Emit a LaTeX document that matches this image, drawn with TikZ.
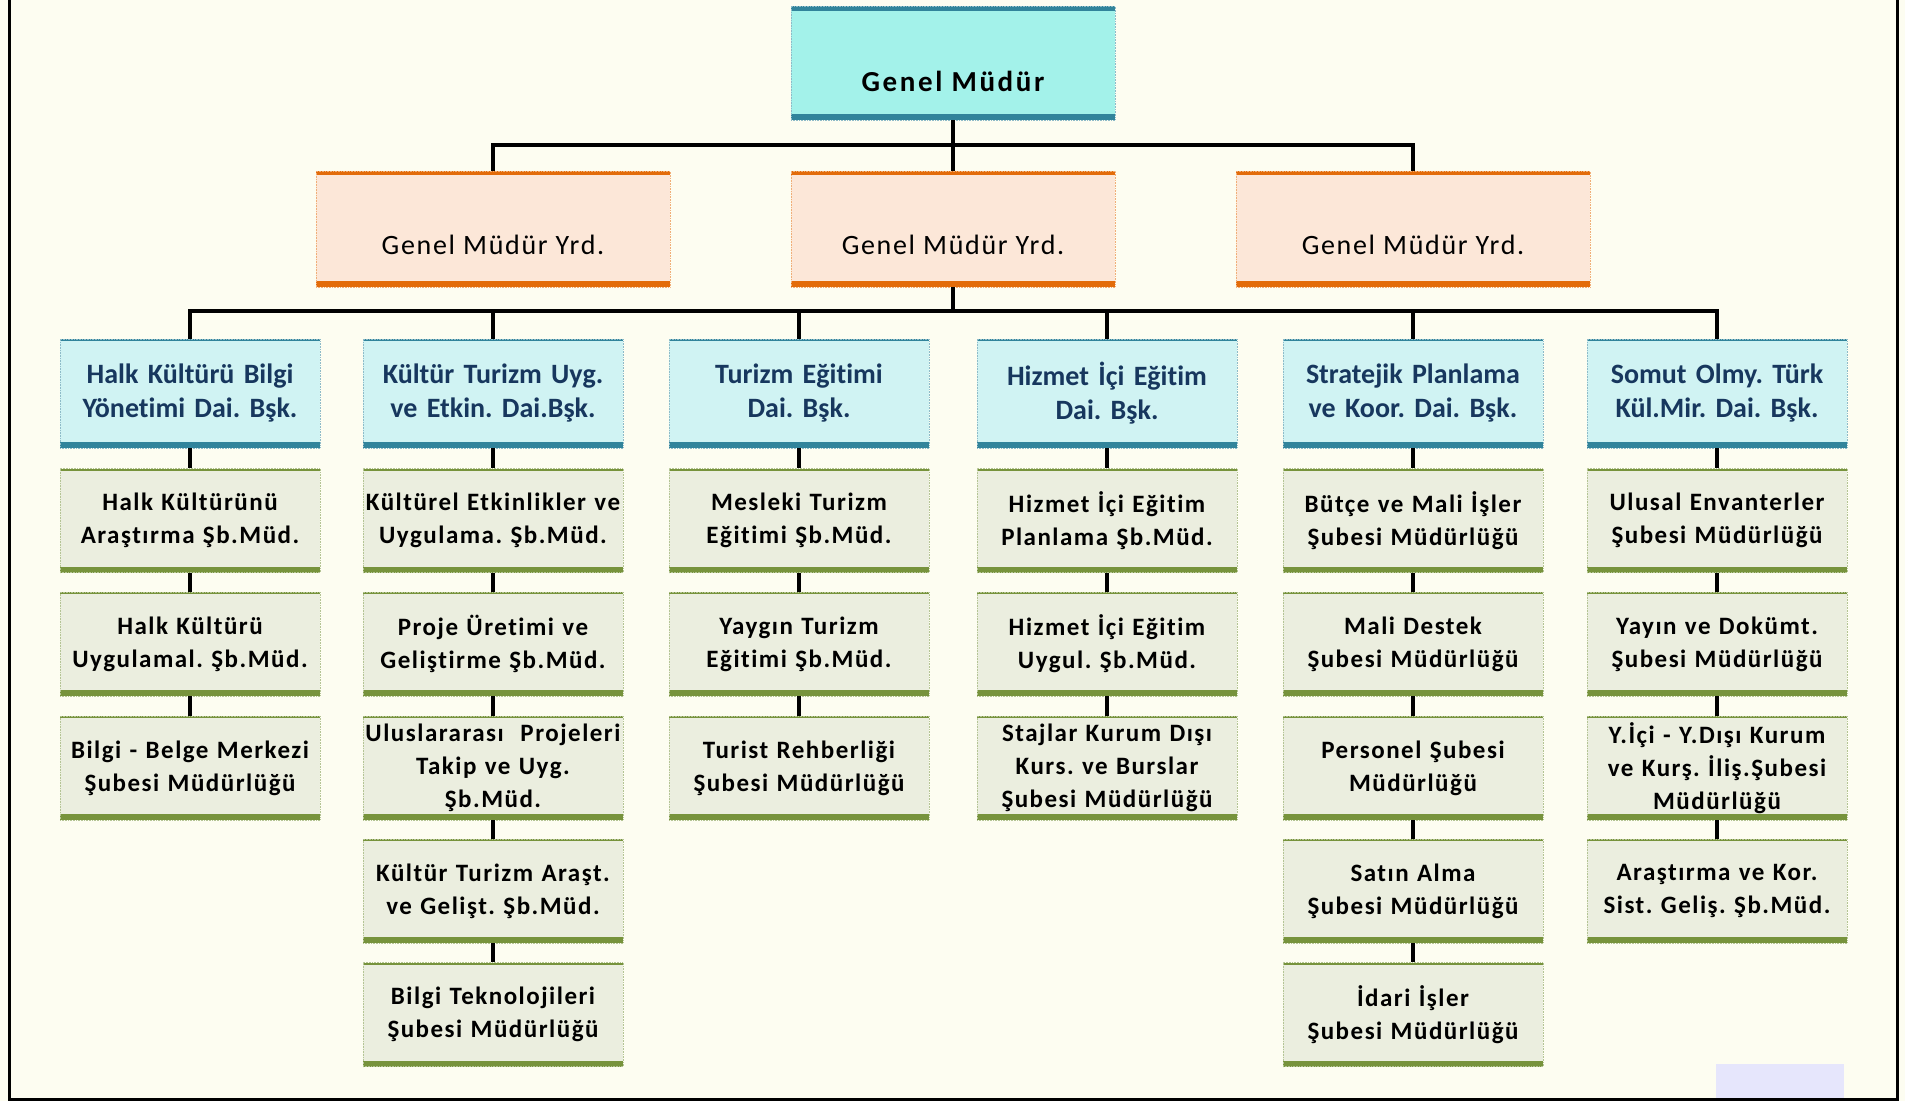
\documentclass[tikz,border=0pt]{standalone}
\usepackage{fontspec}
\setmainfont{Carlito}[Ligatures=NoCommon]
\newfontfamily\widefont[LetterSpace=6,Ligatures=NoCommon]{Carlito}
\newfontfamily\widerfont[LetterSpace=9,Ligatures=NoCommon]{Carlito}
\frenchspacing
\definecolor{bgcream}{HTML}{FDFDF1}
\definecolor{gmcyan}{HTML}{A3F2EA}
\definecolor{tealline}{HTML}{31849B}
\definecolor{yrdpeach}{HTML}{FCE7D8}
\definecolor{yrdorange}{HTML}{E36C0A}
\definecolor{daicyan}{HTML}{D0F3F3}
\definecolor{daiblue}{HTML}{17375E}
\definecolor{subgrey}{HTML}{EBEEDF}
\definecolor{oliveline}{HTML}{77933C}
\definecolor{lavbox}{HTML}{E6E6FC}
\tikzset{
  bars/.style n args={3}{path picture={
    \fill[#1] (path picture bounding box.north west) rectangle ([yshift=-#2]path picture bounding box.north east);
    \fill[#1] (path picture bounding box.south west) rectangle ([yshift=#3]path picture bounding box.south east);}},
  unit/.style={draw=#1!55, densely dotted, line width=0.6pt, inner sep=0pt, align=center},
  gmbox/.style={unit=tealline, fill=gmcyan, bars={tealline}{5pt}{6pt}, minimum width=324pt, minimum height=114pt},
  gmtext/.style={font=\widerfont\bfseries\fontsize{29}{35}\selectfont, yshift=-18pt},
  yrdbox/.style={unit=yrdorange, fill=yrdpeach, bars={yrdorange}{4pt}{6pt}, minimum height=116pt},
  yrdtext/.style={font=\widefont\fontsize{28}{34}\selectfont, yshift=-16pt},
  daibox/.style={unit=tealline, fill=daicyan, bars={tealline}{2pt}{6pt}, minimum width=260pt, minimum height=109pt, text width=258pt, font=\bfseries\fontsize{28}{34}\selectfont, text=daiblue},
  subbox/.style={unit=oliveline, fill=subgrey, bars={oliveline}{2pt}{6pt}, minimum width=260pt, minimum height=104pt, text width=258pt, font=\widefont\bfseries\fontsize{25}{33}\selectfont},
  link/.style={line width=3.6pt},
}
\begin{document}
\begin{tikzpicture}[x=1pt,y=-1pt]
\fill[bgcream] (0,0) rectangle (1905,1101);
\useasboundingbox (0,0) rectangle (1905,1101);
\fill[lavbox] (1716,1064) rectangle (1844,1099);
\draw[line width=3pt] (9,0) |- (1897,1099) -- (1897,0);
% top levels
\node[gmbox, label={[gmtext]center:Genel Müdür}] (gm) at (953,63) {};
\node[yrdbox, minimum width=354pt, label={[yrdtext]center:Genel Müdür Yrd.}] (gmy1) at (493,229) {};
\node[yrdbox, minimum width=324pt, label={[yrdtext]center:Genel Müdür Yrd.}] (gmy2) at (953,229) {};
\node[yrdbox, minimum width=354pt, label={[yrdtext]center:Genel Müdür Yrd.}] (gmy3) at (1413,229) {};
% daire baskanliklari
\node[daibox] (d1) at (190,393.5) {Halk Kültürü Bilgi\\Yönetimi Dai. Bşk.};
\node[daibox] (d2) at (493,393.5) {Kültür Turizm Uyg.\\ve Etkin. Dai.Bşk.};
\node[daibox] (d3) at (799,393.5) {Turizm Eğitimi\\Dai. Bşk.};
\node[daibox] (d4) at (1107,393.5) {Hizmet İçi Eğitim\\Dai. Bşk.};
\node[daibox] (d5) at (1413,393.5) {Stratejik Planlama\\ve Koor. Dai. Bşk.};
\node[daibox] (d6) at (1717,393.5) {Somut Olmy. Türk\\Kül.Mir. Dai. Bşk.};
% sube mudurlukleri
\node[subbox] (h1) at (190,520.5) {Halk Kültürünü\\Araştırma Şb.Müd.};
\node[subbox] (h2) at (190,644) {Halk Kültürü\\Uygulamal. Şb.Müd.};
\node[subbox] (h3) at (190,768) {Bilgi - Belge Merkezi\\Şubesi Müdürlüğü};
\node[subbox] (k1) at (493,520.5) {Kültürel Etkinlikler ve\\Uygulama. Şb.Müd.};
\node[subbox] (k2) at (493,644) {Proje Üretimi ve\\Geliştirme Şb.Müd.};
\node[subbox] (k3) at (493,768) {Uluslararası~~Projeleri\\Takip ve Uyg.\\Şb.Müd.};
\node[subbox] (k4) at (493,891) {Kültür Turizm Araşt.\\ve Gelişt. Şb.Müd.};
\node[subbox] (k5) at (493,1014.5) {Bilgi Teknolojileri\\Şubesi Müdürlüğü};
\node[subbox] (t1) at (799,520.5) {Mesleki Turizm\\Eğitimi Şb.Müd.};
\node[subbox] (t2) at (799,644) {Yaygın Turizm\\Eğitimi Şb.Müd.};
\node[subbox] (t3) at (799,768) {Turist Rehberliği\\Şubesi Müdürlüğü};
\node[subbox] (e1) at (1107,520.5) {Hizmet İçi Eğitim\\Planlama Şb.Müd.};
\node[subbox] (e2) at (1107,644) {Hizmet İçi Eğitim\\Uygul. Şb.Müd.};
\node[subbox] (e3) at (1107,768) {Stajlar Kurum Dışı\\Kurs. ve Burslar\\Şubesi Müdürlüğü};
\node[subbox] (s1) at (1413,520.5) {Bütçe ve Mali İşler\\Şubesi Müdürlüğü};
\node[subbox] (s2) at (1413,644) {Mali Destek\\Şubesi Müdürlüğü};
\node[subbox] (s3) at (1413,768) {Personel Şubesi\\Müdürlüğü};
\node[subbox] (s4) at (1413,891) {Satın Alma\\Şubesi Müdürlüğü};
\node[subbox] (s5) at (1413,1014.5) {İdari İşler\\Şubesi Müdürlüğü};
\node[subbox] (o1) at (1717,520.5) {Ulusal Envanterler\\Şubesi Müdürlüğü};
\node[subbox] (o2) at (1717,644) {Yayın ve Dokümt.\\Şubesi Müdürlüğü};
\node[subbox] (o3) at (1717,768) {Y.İçi - Y.Dışı Kurum\\ve Kurş. İliş.Şubesi\\Müdürlüğü};
\node[subbox] (o4) at (1717,891) {Araştırma ve Kor.\\Sist. Geliş. Şb.Müd.};
% connectors
\coordinate (j1) at (953,145);
\coordinate (j2) at (953,311);
\draw[link] (gm) -- (gmy2);
\draw[link] (gmy1.north) |- (j1) -| (gmy3.north);
\draw[link] (gmy2.south) -- (j2);
\draw[link] (d1.north) |- (j2) -| (d6.north);
\foreach \d in {d2,d3,d4,d5}
  \draw[link] (\d.north) -- (\d.north |- j2);
\foreach \a/\b in {d1/h1,h1/h2,h2/h3,d2/k1,k1/k2,k2/k3,k3/k4,k4/k5,d3/t1,t1/t2,t2/t3,d4/e1,e1/e2,e2/e3,d5/s1,s1/s2,s2/s3,s3/s4,s4/s5,d6/o1,o1/o2,o2/o3,o3/o4}
  \draw[link] (\a) -- (\b);
\end{tikzpicture}
\end{document}
